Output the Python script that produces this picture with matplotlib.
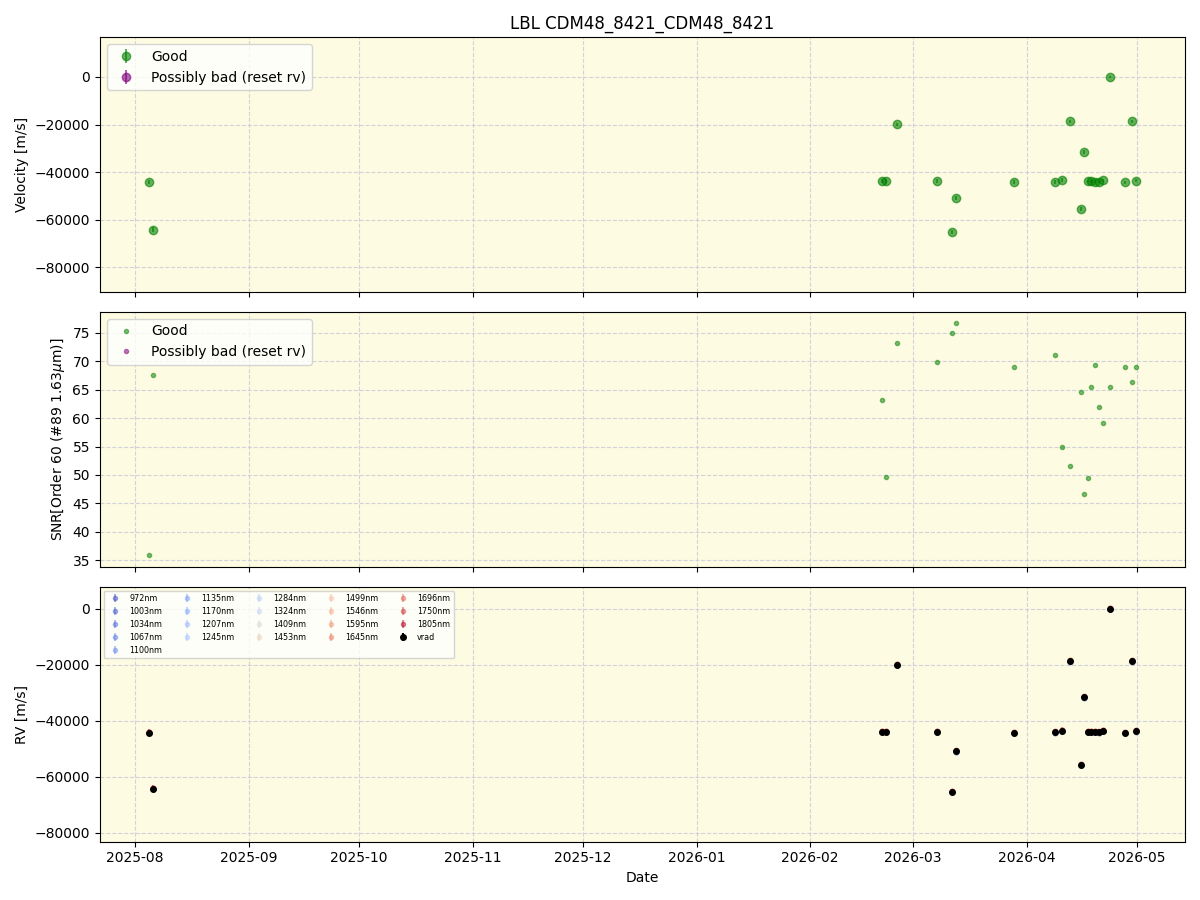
"""LBL time series: velocity, SNR and per-band RV for CDM48_8421."""

import matplotlib
matplotlib.use("Agg")
import matplotlib.pyplot as plt
import numpy as np
import pandas as pd

OBJECT = "CDM48_8421_CDM48_8421"

DATES = [
    "2025-08-04 19:00", "2025-08-05 21:30", "2026-02-20 12:40", "2026-02-21 15:00",
    "2026-02-24 15:00", "2026-03-07 12:00", "2026-03-11 14:00", "2026-03-12 17:00",
    "2026-03-28 12:00", "2026-04-08 17:00", "2026-04-10 14:00", "2026-04-12 19:00",
    "2026-04-15 17:00", "2026-04-16 14:00", "2026-04-17 14:00", "2026-04-18 12:00",
    "2026-04-19 14:00", "2026-04-20 14:00", "2026-04-21 17:00", "2026-04-23 14:00",
    "2026-04-27 17:00", "2026-04-29 14:00", "2026-04-30 17:00",
]
VRAD = [
    -44200, -64200, -43900, -43900, -19900, -43900, -65400, -50900,
    -44300, -44100, -43500, -18700, -55700, -31600, -43900, -43900,
    -44000, -44100, -43500, 0, -44300, -18700, -43700,
]
VRAD_ERR = [900, 900, 800, 800, 700, 800, 800, 800, 800, 800, 800, 700,
            800, 700, 700, 700, 700, 700, 700, 600, 700, 700, 700]
SNR = [
    35.9, 67.5, 63.2, 49.7, 73.2, 69.9, 75.0, 76.6, 69.0, 71.1, 55.0, 51.5,
    64.6, 46.6, 49.4, 65.5, 69.4, 62.0, 59.2, 65.5, 68.9, 66.4, 69.0,
]
BANDS = [972, 1003, 1034, 1067, 1100, 1135, 1170, 1207, 1245,
         1284, 1324, 1409, 1453, 1499, 1546, 1595, 1645, 1696, 1750, 1805]
# small per-band shifts relative to vrad (m/s), mostly hidden behind the black points
BAND_OFFSET = [-150, -120, -100, -80, -60, -50, -40, -20, 0,
               0, 20, 40, 60, 80, 100, 150, 200, 250, 300, 350]

BG = "#fdfbe1"


def style(ax):
    ax.set_facecolor(BG)
    ax.grid(True, color="#c8c8d8", ls="--", lw=0.8, alpha=0.8)


def main():
    t = pd.to_datetime(DATES)
    vrad = np.array(VRAD, dtype=float)
    err = np.array(VRAD_ERR, dtype=float)

    fig, axes = plt.subplots(3, 1, figsize=(12, 9), sharex=True)

    ax = axes[0]
    style(ax)
    ax.errorbar(t, vrad, yerr=err, fmt="o", color="green", alpha=0.6, ms=6,
                label="Good")
    ax.errorbar([], [], yerr=[], fmt="o", color="purple", alpha=0.6, ms=6,
                label="Possibly bad (reset rv)")
    ax.set_ylim(-90500, 16800)
    ax.set_ylabel("Velocity [m/s]")
    ax.set_title(f"LBL {OBJECT}")
    ax.legend(loc="upper left")

    ax = axes[1]
    style(ax)
    ax.plot(t, SNR, ".", color="green", alpha=0.5, label="Good")
    ax.plot([], [], ".", color="purple", alpha=0.5, label="Possibly bad (reset rv)")
    ax.set_ylabel(r"SNR[Order 60 (#89 1.63$\mu$m)]")
    ax.legend(loc="upper left")

    ax = axes[2]
    style(ax)
    cmap = plt.get_cmap("coolwarm")
    wl = np.array(BANDS, dtype=float)
    norm = (wl - wl.min()) / (wl.max() - wl.min())
    for band, off, c in zip(BANDS, BAND_OFFSET, norm):
        ax.errorbar(t, vrad + off, yerr=err, fmt="o", ms=3, color=cmap(c),
                    alpha=0.45, label=f"{band}nm")
    ax.errorbar(t, vrad, yerr=err, fmt="o", ms=4, color="black", label="vrad")
    ax.set_ylim(-83200, 7900)
    ax.set_ylabel("RV [m/s]")
    ax.set_xlabel("Date")
    ax.legend(loc="upper left", ncol=5, fontsize=5.8)

    fig.tight_layout()
    fig.savefig("out.png", dpi=100)


if __name__ == "__main__":
    main()
